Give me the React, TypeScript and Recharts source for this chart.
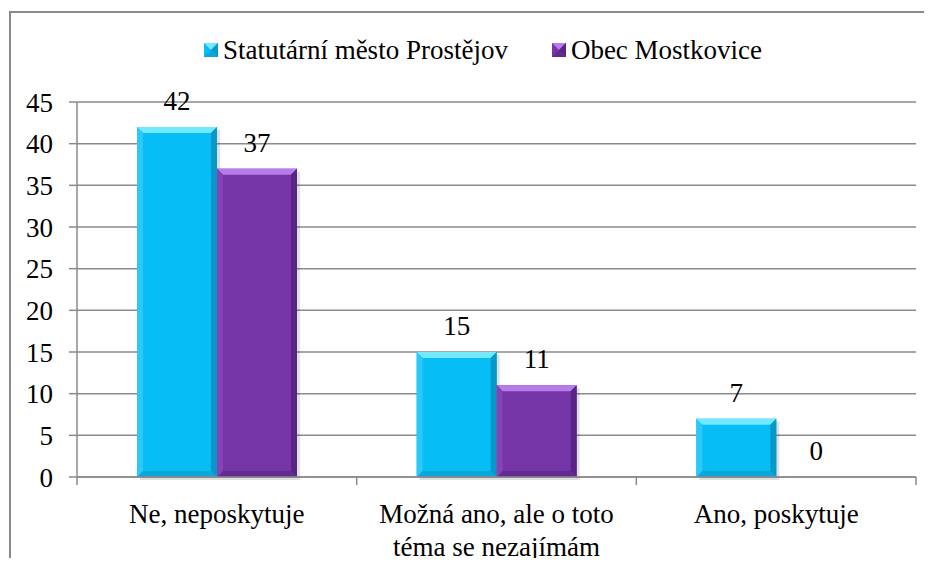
import { BarChart, Bar, XAxis, YAxis, CartesianGrid, Legend, LabelList } from "recharts";

const categories = ["Ne, neposkytuje", "Možná ano, ale o toto téma se nezajímám", "Ano, poskytuje"];
const prostejov = [42, 15, 7];
const mostkovice = [37, 11, 0];
const yTicks = [0, 5, 10, 15, 20, 25, 30, 35, 40, 45];

const SERIES = [
  { key: "prostejov", name: "Statutární město Prostějov", main: "#06BDF5", top: "#72E9FF", left: "#2CC9F8", right: "#0698C8", bottom: "#0AA8DA" },
  { key: "mostkovice", name: "Obec Mostkovice", main: "#7635A7", top: "#B67CEA", left: "#8443B6", right: "#5A2486", bottom: "#642A94" },
];

const data = categories.map((c, i) => ({ name: c, prostejov: prostejov[i], mostkovice: mostkovice[i] }));

const W = 932;
const H = 566;
const PLOT_LEFT = 77;
const PLOT_RIGHT = 916;
const PLOT_TOP = 102;
const PLOT_BOTTOM = 477;
const Y_AXIS_W = 70;
const FONT = "'Liberation Serif', 'Times New Roman', serif";
const FS = 27;
const GRID = "#8a8a8a";

function wrap(text: string, max: number) {
  const lines: string[] = [];
  let cur = "";
  for (const w of text.split(" ")) {
    const next = cur ? cur + " " + w : w;
    if (next.length > max && cur) {
      lines.push(cur);
      cur = w;
    } else cur = next;
  }
  if (cur) lines.push(cur);
  return lines;
}

function bevelShape(s: (typeof SERIES)[number]) {
  return (props: any) => {
    const { x, y, width: w, height: h } = props;
    if (!h || h <= 0) return <g />;
    const b = Math.min(6, h / 2, w / 2);
    return (
      <g>
        <rect x={x + 3} y={y + 3} width={w} height={h} fill="rgba(0,0,0,0.12)" />
        <rect x={x} y={y} width={w} height={h} fill={s.main} />
        <polygon points={`${x},${y} ${x + w},${y} ${x + w - b},${y + b} ${x + b},${y + b}`} fill={s.top} />
        <polygon points={`${x},${y + h} ${x + w},${y + h} ${x + w - b},${y + h - b} ${x + b},${y + h - b}`} fill={s.bottom} />
        <polygon points={`${x},${y} ${x + b},${y + b} ${x + b},${y + h - b} ${x},${y + h}`} fill={s.left} />
        <polygon points={`${x + w},${y} ${x + w - b},${y + b} ${x + w - b},${y + h - b} ${x + w},${y + h}`} fill={s.right} />
      </g>
    );
  };
}

function CategoryTick(props: any) {
  const { x, y, payload, index } = props;
  const band = (PLOT_RIGHT - PLOT_LEFT) / categories.length;
  const lines = wrap(String(payload.value), 21);
  return (
    <g>
      <line x1={x - band / 2} y1={y} x2={x - band / 2} y2={y + 8} stroke={GRID} strokeWidth={1.5} />
      {index === categories.length - 1 && (
        <line x1={x + band / 2} y1={y} x2={x + band / 2} y2={y + 8} stroke={GRID} strokeWidth={1.5} />
      )}
      <text x={x} y={y + 46} textAnchor="middle" fontFamily={FONT} fontSize={FS} fill="#000">
        {lines.map((l, i) => (
          <tspan key={i} x={x} dy={i === 0 ? 0 : 33}>
            {l}
          </tspan>
        ))}
      </text>
    </g>
  );
}

function LegendContent() {
  return (
    <div style={{ display: "flex", justifyContent: "center", gap: 44, fontFamily: FONT, fontSize: FS, lineHeight: "32px", color: "#000", paddingLeft: 34 }}>
      {SERIES.map((s) => (
        <div key={s.key} style={{ display: "flex", alignItems: "center", gap: 5 }}>
          <svg width={14} height={14}>
            <rect x={0} y={0} width={14} height={14} fill={s.main} />
            <polygon points="0,0 14,0 7,7" fill={s.top} />
            <polygon points="14,0 14,14 7,7" fill={s.right} />
            <polygon points="0,14 14,14 7,7" fill={s.bottom} />
          </svg>
          <span>{s.name}</span>
        </div>
      ))}
    </div>
  );
}

export default function App() {
  return (
    <div style={{ position: "relative", width: W, height: H, margin: -8, overflow: "hidden", background: "#fff" }}>
      <div
        style={{
          position: "absolute",
          left: 9,
          top: 11,
          width: W,
          height: H,
          borderLeft: `2px solid ${GRID}`,
          borderTop: `2px solid ${GRID}`,
        }}
      />
      <div style={{ position: "absolute", left: 0, top: 0 }}>
        <BarChart
          width={W}
          height={H}
          data={data}
          margin={{ top: PLOT_TOP, right: W - PLOT_RIGHT, bottom: 0, left: PLOT_LEFT - Y_AXIS_W }}
          barCategoryGap={60}
          barGap={0}
        >
          <CartesianGrid vertical={false} stroke={GRID} strokeWidth={1.5} />
          <XAxis
            dataKey="name"
            height={H - PLOT_BOTTOM}
            interval={0}
            tickSize={0}
            tickMargin={0}
            tick={<CategoryTick />}
            axisLine={{ stroke: GRID, strokeWidth: 1.5 }}
          />
          <YAxis
            width={Y_AXIS_W}
            domain={[0, 45]}
            ticks={yTicks}
            interval={0}
            tickSize={8}
            tickMargin={16}
            tickLine={{ stroke: GRID, strokeWidth: 1.5 }}
            axisLine={{ stroke: GRID, strokeWidth: 1.5 }}
            tick={{ fontFamily: FONT, fontSize: FS, fill: "#000" }}
          />
          <Legend verticalAlign="middle" align="center" wrapperStyle={{ top: 34, left: 0, width: W }} content={<LegendContent />} />
          {SERIES.map((s) => (
            <Bar key={s.key} dataKey={s.key} name={s.name} fill={s.main} shape={bevelShape(s)} isAnimationActive={false}>
              <LabelList dataKey={s.key} position="top" offset={17} style={{ fontFamily: FONT, fontSize: FS, fill: "#000" }} />
            </Bar>
          ))}
        </BarChart>
      </div>
    </div>
  );
}
